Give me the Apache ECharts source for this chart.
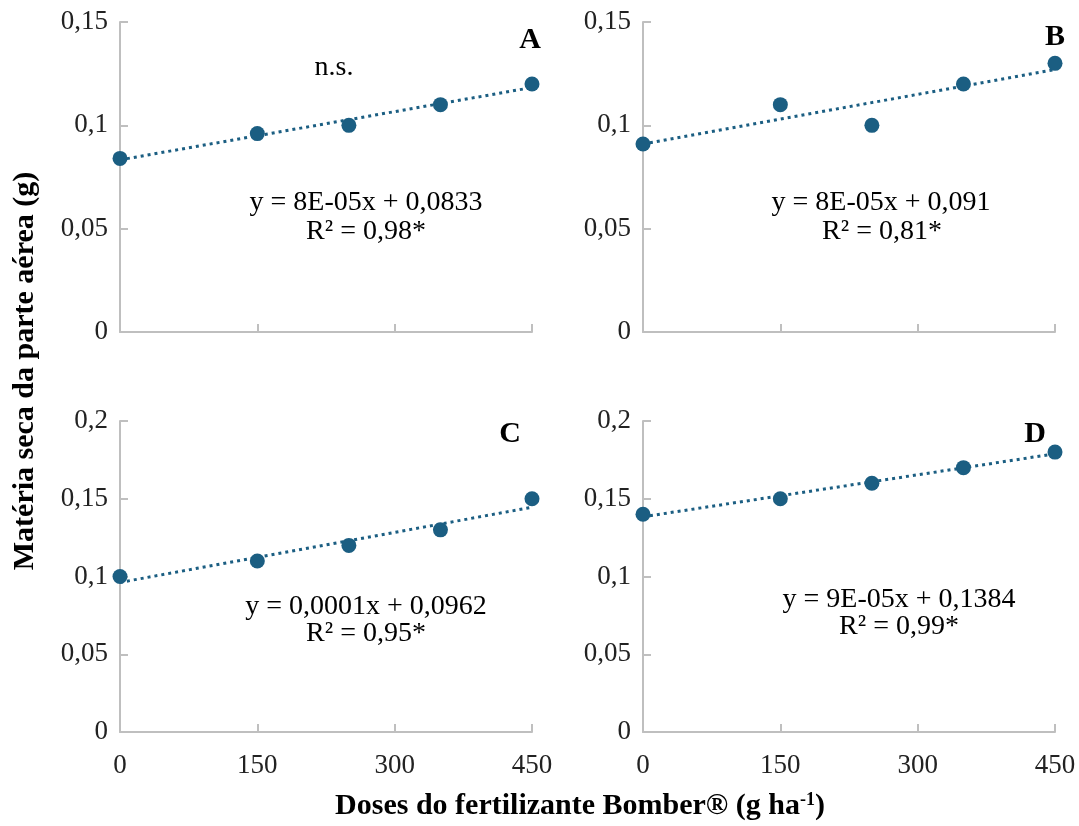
<!DOCTYPE html>
<html>
<head>
<meta charset="utf-8">
<script src="https://cdn.jsdelivr.net/npm/echarts@6/dist/echarts.min.js"></script>
<style>
  html, body { margin: 0; padding: 0; background: #fff; }
  #chart { width: 1079px; height: 826px; }
</style>
</head>
<body>
<div id="chart"></div>
<script>
// doses (g/ha) and dry mass of the aerial part (g) per panel
const doses = [0, 150, 250, 350, 450];
const massA = [0.084, 0.096, 0.1, 0.11, 0.12];
const massB = [0.091, 0.11, 0.1, 0.12, 0.13];
const massC = [0.1, 0.11, 0.12, 0.13, 0.15];
const massD = [0.14, 0.15, 0.16, 0.17, 0.18];

// trendline ends, read at x = 0 and x = 450
const trendX = [0, 450];
const trendA = [0.0833, 0.1183];
const trendB = [0.091, 0.127];
const trendC = [0.0962, 0.1445];
const trendD = [0.1384, 0.1789];

const panelLetters = ['A', 'B', 'C', 'D'];
const equations = ['y = 8E-05x + 0,0833', 'y = 8E-05x + 0,091', 'y = 0,0001x + 0,0962', 'y = 9E-05x + 0,1384'];
const r2Labels = ['R² = 0,98*', 'R² = 0,81*', 'R² = 0,95*', 'R² = 0,99*'];
const yMax = [0.15, 0.15, 0.2, 0.2];

const masses = [massA, massB, massC, massD];
const trends = [trendA, trendB, trendC, trendD];

const COLOR = '#1b5e82';
const AXIS = '#bfbfbf';
const FONT = '"Liberation Serif", "Times New Roman", serif';

const chart = echarts.init(document.getElementById('chart'));

const grids = [
  { left: 120, top: 22, width: 412, height: 310 },
  { left: 643, top: 22, width: 412, height: 310 },
  { left: 120, top: 421, width: 412, height: 311 },
  { left: 643, top: 421, width: 412, height: 311 }
];

const xAxes = grids.map((g, i) => ({
  type: 'value',
  gridIndex: i,
  min: 0,
  max: 450,
  interval: 150,
  axisLine: { show: true, lineStyle: { color: AXIS, width: 2 } },
  axisTick: { show: true, inside: true, length: 8, lineStyle: { color: AXIS, width: 2 } },
  axisLabel: { show: i >= 2, margin: 20, fontSize: 27, fontFamily: FONT, color: '#222' },
  splitLine: { show: false }
}));

const yAxes = grids.map((g, i) => ({
  type: 'value',
  gridIndex: i,
  min: 0,
  max: yMax[i],
  interval: 0.05,
  axisLine: { show: true, lineStyle: { color: AXIS, width: 2 } },
  axisTick: { show: true, inside: true, length: 8, lineStyle: { color: AXIS, width: 2 } },
  axisLabel: {
    margin: 12, fontSize: 27, fontFamily: FONT, color: '#222',
    formatter: v => String(+v.toFixed(2)).replace('.', ',')
  },
  splitLine: { show: false }
}));

const series = [];
masses.forEach((m, i) => {
  series.push({
    type: 'line',
    xAxisIndex: i,
    yAxisIndex: i,
    data: trendX.map((x, k) => [x, trends[i][k]]),
    symbol: 'none',
    lineStyle: { color: COLOR, width: 3, type: [3, 4] },
    silent: true,
    z: 2
  });
  series.push({
    type: 'scatter',
    xAxisIndex: i,
    yAxisIndex: i,
    data: doses.map((x, k) => [x, m[k]]),
    symbol: 'circle',
    symbolSize: 15,
    itemStyle: { color: COLOR, opacity: 1 },
    clip: false,
    z: 3
  });
});

const letterPos = [[530, 40], [1055, 37], [510, 434], [1035, 434]];
const eqPos = [[366, 203], [881, 203], [366, 607], [899, 600]];
const r2Pos = [[366, 232], [882, 232], [366, 634], [899, 627]];

const graphic = [];
panelLetters.forEach((l, i) => {
  graphic.push({
    type: 'text', x: letterPos[i][0], y: letterPos[i][1],
    style: { text: l, font: 'bold 30px ' + FONT, fill: '#000', textAlign: 'center', textVerticalAlign: 'middle' }
  });
  graphic.push({
    type: 'text', x: eqPos[i][0], y: eqPos[i][1],
    style: { text: equations[i], font: '28px ' + FONT, fill: '#000', textAlign: 'center', textVerticalAlign: 'middle' }
  });
  graphic.push({
    type: 'text', x: r2Pos[i][0], y: r2Pos[i][1],
    style: { text: r2Labels[i], font: '28px ' + FONT, fill: '#000', textAlign: 'center', textVerticalAlign: 'middle' }
  });
});
graphic.push({
  type: 'text', x: 334, y: 68,
  style: { text: 'n.s.', font: '28px ' + FONT, fill: '#000', textAlign: 'center', textVerticalAlign: 'middle' }
});
// axis titles
graphic.push({
  type: 'text', x: 25, y: 371, rotation: Math.PI / 2,
  style: { text: 'Matéria seca da parte aérea (g)', font: 'bold 30px ' + FONT, fill: '#000', textAlign: 'center', textVerticalAlign: 'middle' }
});
graphic.push({
  type: 'text', x: 580, y: 806,
  style: {
    text: 'Doses do fertilizante Bomber® (g ha{sup|-1})',
    font: 'bold 30px ' + FONT, fill: '#000', textAlign: 'center', textVerticalAlign: 'middle',
    rich: { sup: { fontSize: 18, fontWeight: 'bold', fontFamily: FONT, verticalAlign: 'top', padding: [0, 0, 12, 0] } }
  }
});

chart.setOption({
  backgroundColor: '#fff',
  animation: false,
  grid: grids,
  xAxis: xAxes,
  yAxis: yAxes,
  series: series,
  graphic: graphic
});
</script>
</body>
</html>
